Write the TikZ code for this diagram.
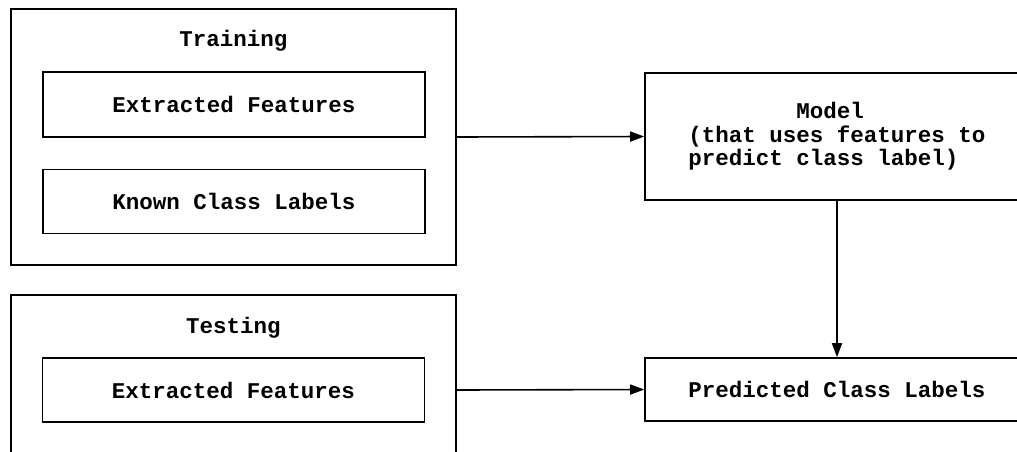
\documentclass[tikz,border=0pt]{standalone}
\usepackage{fontspec}
\setmonofont{Liberation Mono}
\usetikzlibrary{arrows.meta, positioning}
\newcommand{\boxfont}{\ttfamily\bfseries\fontsize{22.5pt}{23.5pt}\selectfont}
\tikzset{
    outerbox/.style={rectangle, draw, line width=1.6pt, minimum width=445pt, inner sep=0pt},
    innerbox/.style={rectangle, draw, line width=1.6pt, minimum width=382pt,
        minimum height=64pt, inner sep=0pt, font=\boxfont},
    rightbox/.style={rectangle, draw, line width=1.6pt, minimum width=384pt,
        inner sep=0pt, font=\boxfont},
    boxtitle/.style={font=\boxfont, inner sep=0pt, anchor=base},
    arrow/.style={-{Triangle[length=14pt, width=10pt]}, line width=1.6pt}
}

\begin{document}
\begin{tikzpicture}[x=1pt, y=-1pt]

    \useasboundingbox (0,0) rectangle (1017,451);
    \clip (0,0) rectangle (1017,451);

    % training side
    \node[outerbox, minimum height=256pt] (training) at (233.5,137) {};
    \node[boxtitle] (traintitle) at (233.5,46) {Training};
    \node[innerbox, minimum height=65pt] (trainfeat) at (234,104.5) {Extracted Features};
    \node[innerbox, below=31pt of trainfeat] (known) {Known Class Labels};

    % testing side (runs off the bottom)
    \node[outerbox, minimum height=190pt] (testing) at (233.5,390) {};
    \node[boxtitle] (testtitle) at (233.5,333) {Testing};
    \node[innerbox] (testfeat) at (233.5,390) {Extracted Features};

    % model and output (run off the right edge)
    \node[rightbox, minimum height=127pt, align=left] (model) at (837,136.5)
        {\hspace*{4.8em}Model\\(that uses features to\\predict class label)};
    \node[rightbox, minimum height=63pt] (pred) at (837,389.5) {Predicted Class Labels};

    \draw[arrow] (training.east) -- (model.west);
    \draw[arrow] (testing.east) -- (pred.west);
    \draw[arrow] (model) -- (pred);

\end{tikzpicture}
\end{document}
